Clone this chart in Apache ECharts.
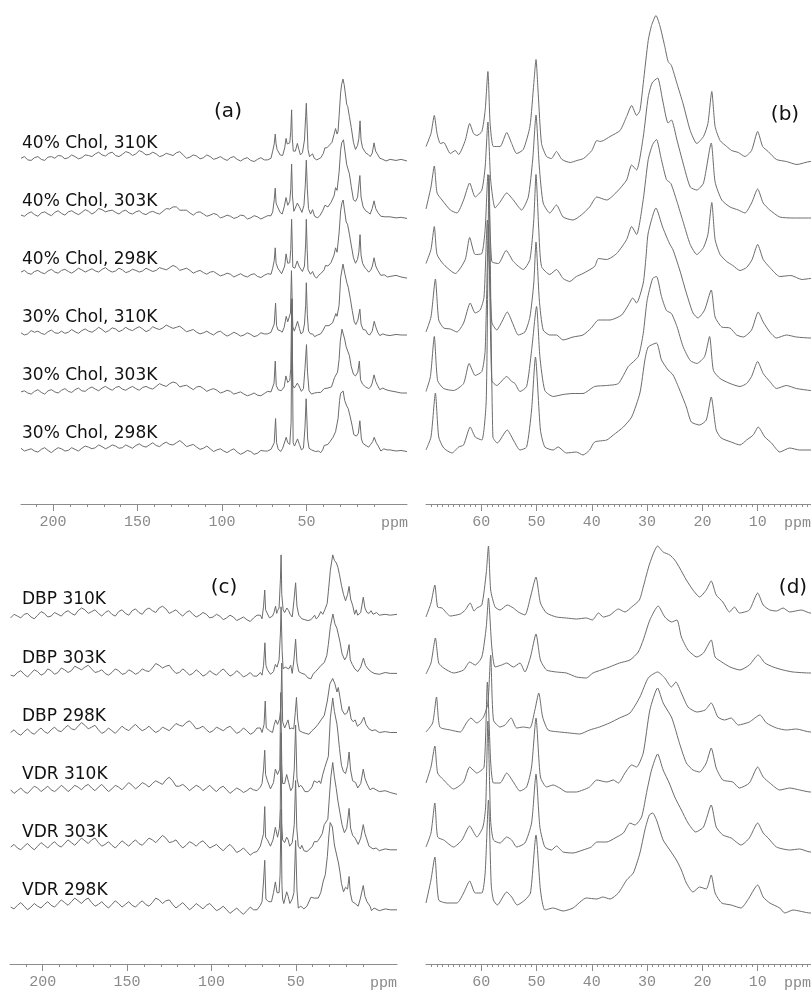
<!DOCTYPE html>
<html>
<head>
<meta charset="utf-8">
<script src="https://cdn.jsdelivr.net/npm/echarts@6.0.0/dist/echarts.min.js"></script>
<style>
html, body { margin: 0; padding: 0; background: #fff; }
#chart { width: 811px; height: 990px; }
</style>
</head>
<body>
<div id="chart"></div>
<script>
// ppm positions of the baseline readings in the wide panels (a) and (c)
const widePpm = [219, 217, 215, 213, 211, 209, 207, 205, 203, 201, 199, 197, 195, 193, 191, 189, 187, 185, 183, 181,
  179, 177, 175, 173, 171, 169, 167, 165, 163, 161, 159, 157, 155, 153, 151, 149, 147, 145, 143, 141,
  139, 137, 135, 133, 131, 129, 127, 125, 123, 121, 119, 117, 115, 113, 111, 109, 107, 105, 103, 101,
  99, 97, 95, 93, 91, 89, 87, 85, 83, 81, 79, 77, 75, 73, 71];

// baseline intensities (219 -> 71 ppm), same units as the peak lists below
const chol40_310Base = [5, 8, 2, 1, 6, 8, 3, 1, 7, 8, 5, 10, 9, 4, 6, 11, 8, 4, 6, 11, 10, 8, 13, 16, 11, 9, 14, 16, 10, 8,
  12, 17, 15, 10, 13, 19, 16, 11, 12, 16, 13, 8, 10, 14, 12, 10, 15, 17, 11, 5, 7, 11, 9, 4, 6, 11, 8, 3, 5, 8,
  4, 1, 6, 8, 3, 0, 4, 6, 1, -1, 3, 6, 2, 2, 5];
const chol40_303Base = [7, 5, 10, 13, 8, 5, 11, 13, 9, 6, 12, 15, 10, 7, 13, 15, 11, 8, 12, 17, 14, 9, 13, 19, 17, 13, 15, 16, 12, 9,
  14, 16, 11, 9, 13, 15, 10, 8, 12, 14, 11, 9, 14, 19, 18, 22, 22, 16, 16, 16, 11, 7, 12, 13, 9, 5, 7, 10, 8, 2,
  4, 7, 5, 1, 3, 7, 6, 0, 2, 6, 4, 0, 3, 6, 6];
const chol40_298Base = [9, 12, 7, 5, 10, 12, 8, 6, 11, 14, 9, 7, 12, 14, 10, 7, 11, 16, 13, 9, 12, 15, 11, 9, 14, 17, 12, 9, 11, 16,
  13, 8, 10, 14, 12, 9, 11, 16, 13, 10, 12, 17, 15, 13, 17, 21, 18, 12, 14, 16, 12, 7, 10, 12, 8, 5, 9, 10, 6, 2,
  4, 7, 5, 0, 3, 6, 2, 0, 4, 6, 1, -1, 3, 6, 5];
const chol30_310Base = [4, 0, 2, 8, 5, 7, 3, 1, 6, 9, 4, 3, 7, 3, 5, 10, 6, 3, 8, 11, 7, 5, 9, 14, 10, 5, 8, 13, 11, 6,
  9, 14, 10, 8, 12, 15, 11, 6, 9, 15, 12, 10, 13, 18, 15, 12, 14, 16, 11, 6, 8, 10, 5, 2, 4, 7, 3, 0, 5, 7,
  2, -2, 1, 5, 2, -2, 0, 4, 1, -3, -1, 4, 2, 2, 5];
const chol30_303Base = [2, 4, 0, -2, 3, 6, 1, -2, 4, 6, 2, 0, 5, 8, 3, 1, 6, 9, 4, 3, 8, 11, 7, 4, 9, 12, 8, 5, 10, 12,
  7, 5, 9, 12, 8, 5, 10, 12, 9, 7, 12, 17, 14, 12, 17, 20, 18, 11, 13, 14, 10, 6, 11, 12, 8, 3, 6, 8, 5, 0,
  2, 5, 3, -2, 0, 2, -2, -5, -3, 0, -4, -5, -1, 3, 2];
const chol30_298Base = [5, 0, 2, 4, 0, -2, 3, 6, 1, -3, 2, 6, 4, 0, 1, 6, 3, 0, 5, 9, 7, 4, 6, 11, 8, 4, 7, 11, 9, 5,
  6, 11, 8, 5, 10, 13, 9, 7, 11, 15, 10, 8, 13, 16, 12, 11, 15, 19, 14, 8, 10, 12, 7, 3, 5, 9, 4, -1, 2, 4,
  0, -3, 1, 4, -2, -6, -3, 1, -1, -6, -4, 1, 0, 0, 3];
const dbp310Base = [-1, 3, 1, -1, 3, 4, 0, -2, 2, 6, 4, 0, 1, 5, 3, 1, 5, 7, 4, 2, 7, 10, 8, 4, 6, 8, 4, 1, 5, 7,
  3, 1, 6, 8, 4, 2, 7, 9, 5, 3, 8, 10, 7, 5, 10, 12, 9, 4, 6, 8, 4, 1, 5, 7, 3, 0, 2, 5, 3, -1,
  0, 3, 1, -3, -1, 2, 0, -4, -2, 0, -3, -5, -1, 2, 2];
const dbp303Base = [0, -1, 3, 5, 1, -2, 2, 6, 4, 0, 2, 7, 5, 1, 3, 8, 6, 3, 5, 10, 8, 6, 9, 11, 7, 3, 4, 6, 2, 0,
  3, 7, 5, 1, 2, 6, 4, 1, 3, 7, 5, 4, 8, 13, 11, 8, 10, 11, 6, 2, 3, 7, 4, 0, 2, 6, 3, -1, 1, 5,
  2, 0, 4, 7, 3, -1, 1, 5, 2, -2, 0, 3, -1, -1, 3];
const dbp298Base = [1, 4, 0, -2, 2, 5, 1, -1, 3, 6, 2, 0, 4, 7, 3, 2, 6, 9, 5, 4, 8, 12, 9, 5, 7, 9, 4, 0, 2, 6,
  3, 0, 4, 8, 5, 3, 7, 10, 6, 3, 5, 8, 4, 1, 3, 7, 5, 3, 7, 11, 9, 8, 12, 14, 10, 5, 6, 8, 4, 1,
  3, 7, 5, 3, 6, 8, 4, 0, 2, 6, 3, -1, 1, 6, 6];
const vdr310Base = [2, -2, 1, 4, 0, -2, 2, 6, 4, 0, 3, 6, 2, 0, 3, 7, 4, 0, 3, 7, 5, 2, 6, 8, 4, 1, 5, 8, 4, 0,
  3, 7, 5, 2, 6, 10, 7, 3, 6, 10, 8, 5, 9, 12, 10, 8, 13, 16, 12, 6, 6, 8, 5, 1, 4, 7, 5, 1, 4, 7,
  3, 0, 4, 6, 2, -2, 1, 4, 2, -1, 1, 4, 2, 1, 5];
const vdr303Base = [3, 6, 2, 0, 4, 7, 3, 0, 4, 8, 5, 2, 6, 9, 5, 3, 7, 11, 8, 5, 9, 13, 10, 7, 11, 13, 8, 4, 6, 9,
  5, 2, 6, 10, 7, 4, 8, 11, 7, 5, 9, 13, 11, 8, 12, 16, 13, 8, 9, 11, 6, 2, 5, 9, 7, 4, 8, 10, 6, 2,
  4, 6, 2, -1, 3, 6, 2, -3, -1, 2, -2, -6, -3, -2, 4];
const vdr298Base = [1, -1, 3, 6, 2, -2, 1, 5, 2, 0, 4, 7, 3, 1, 5, 9, 6, 3, 7, 11, 8, 5, 9, 11, 6, 2, 4, 7, 3, 0,
  4, 8, 5, 1, 4, 7, 3, 1, 5, 8, 4, 2, 6, 11, 9, 5, 8, 9, 4, 0, 3, 6, 2, -2, 1, 5, 2, -1, 3, 5,
  1, -3, -1, 2, -2, -6, -3, 0, -4, -7, -3, 1, -2, -2, 3];

// [ppm, intensity] (b) and (d), 70 ppm down to -10 ppm
const chol40_310 = [[70, 18], [69.1, 31], [68.5, 49], [68.0, 31], [67.4, 21], [66.8, 22], [65.6, 11], [64.7, 14], [64.1, 10], [62.9, 24],
  [62.1, 41], [61.4, 31], [60.8, 29], [59.9, 33], [59.3, 54], [58.8, 93], [58.4, 41], [57.8, 18], [56.6, 18], [55.4, 32],
  [54.5, 21], [53.6, 11], [52.4, 15], [51.2, 38], [50.5, 81], [50.1, 105], [49.7, 71], [49.1, 21], [48.2, 8], [47.3, 6],
  [46.4, 13], [45.4, 5], [43.9, 2], [42.7, 4], [41.5, 6], [40.0, 14], [39.1, 24], [38.5, 23], [37.9, 24], [36.7, 28],
  [34.9, 34], [33.7, 48], [32.8, 59], [31.9, 49], [31.3, 54], [30.7, 81], [29.8, 124], [29.2, 139], [28.4, 149], [27.7, 139],
  [26.8, 118], [26.2, 103], [25.6, 99], [24.6, 81], [23.5, 61], [22.2, 34], [21.0, 21], [19.8, 28], [19.0, 41], [18.3, 73],
  [17.7, 38], [16.8, 24], [15.6, 18], [14.7, 14], [13.5, 12], [12.3, 8], [11.1, 14], [10.0, 33], [9.1, 18], [8.1, 13],
  [6.6, 5], [4.8, 3], [2.9, 0], [0.5, 3], [-3, 1], [-6, 3], [-9.5, 0]];
const chol40_303 = [[70, 13], [69.1, 35], [68.5, 56], [68.0, 29], [67.1, 22], [65.6, 12], [64.4, 9], [63.2, 22], [62.1, 39], [61.1, 25],
  [59.9, 32], [59.3, 55], [58.8, 100], [58.3, 42], [57.5, 14], [56.6, 20], [55.4, 29], [54.2, 22], [52.7, 12], [51.5, 25],
  [50.7, 62], [50.1, 107], [49.5, 55], [48.8, 19], [47.6, 9], [46.4, 17], [45.2, 5], [43.4, 2], [41.9, 7], [40.4, 15],
  [39.1, 25], [37.3, 22], [35.5, 30], [33.7, 42], [32.8, 57], [31.9, 52], [30.7, 85], [29.8, 125], [29.1, 139], [28.1, 144],
  [27.2, 122], [26.2, 99], [25.6, 102], [24.6, 82], [23.5, 59], [22.2, 35], [21.0, 32], [19.8, 39], [18.4, 79], [17.7, 40],
  [16.5, 22], [15.0, 15], [13.5, 12], [12.3, 9], [11.1, 19], [10.0, 33], [9.0, 19], [7.8, 12], [6.0, 5], [3.6, 4],
  [0.5, 4], [-3, 2], [-6, 3], [-9.5, 1]];
const chol40_298 = [[70, 16], [69.1, 30], [68.5, 53], [68.0, 25], [66.8, 15], [64.7, 6], [62.9, 20], [62.1, 42], [61.1, 25], [59.9, 26],
  [59.3, 50], [58.8, 105], [58.1, 18], [56.9, 16], [55.5, 29], [54.2, 18], [52.4, 10], [51.2, 20], [50.5, 60], [50.1, 105],
  [49.6, 50], [49.1, 13], [47.6, 5], [46.4, 10], [45.2, 1], [44.0, -2], [42.8, 3], [41.6, 6], [39.5, 13], [38.8, 21],
  [37.3, 20], [35.5, 26], [33.7, 40], [32.8, 53], [31.9, 45], [30.7, 80], [29.8, 120], [29.0, 135], [28.3, 140], [27.5, 122],
  [26.5, 100], [25.7, 96], [24.6, 78], [23.5, 58], [22.2, 35], [21.0, 25], [19.8, 32], [19.0, 45], [18.3, 77], [17.7, 40],
  [16.8, 25], [15.6, 18], [14.5, 14], [13.2, 9], [12.0, 12], [11.0, 20], [10.0, 35], [9.0, 20], [7.8, 12], [6.0, 3],
  [4.0, 4], [2.0, 0], [0.5, 1], [-3, 3], [-6, 0], [-9.5, -2]];
const chol30_310 = [[70, 5], [69.1, 20], [68.3, 58], [67.7, 17], [66.8, 9], [65.6, 8], [64.4, 5], [63.2, 14], [62.0, 34], [61.1, 24],
  [60.2, 27], [59.5, 40], [58.9, 117], [58.1, 15], [57.2, 7], [56.3, 15], [55.3, 25], [54.2, 12], [53.3, 2], [52.1, 5],
  [51.2, 20], [50.5, 54], [50.1, 95], [49.5, 37], [48.8, 7], [47.6, 2], [46.4, 2], [45.2, -3], [43.4, 0], [41.6, 2],
  [40.1, 9], [38.8, 17], [36.7, 17], [34.6, 22], [33.4, 32], [32.6, 39], [31.9, 34], [30.7, 54], [30.2, 80], [29.8, 104],
  [28.4, 129], [27.2, 110], [26.0, 94], [25.3, 87], [24.1, 67], [22.9, 44], [21.7, 24], [20.8, 19], [19.6, 27], [18.4, 47],
  [17.7, 20], [16.5, 10], [15.0, 9], [13.8, 2], [12.6, 0], [11.1, 7], [9.9, 25], [9.0, 15], [7.8, 5], [6.6, -1],
  [4.8, 2], [3.0, 0], [0.5, -1], [-3, 1], [-6, 0], [-9.5, 0]];
const chol30_303 = [[70, 3], [69.2, 18], [68.5, 58], [67.9, 14], [66.8, 6], [65.0, 4], [63.2, 11], [62.2, 31], [61.1, 19], [59.9, 23],
  [59.3, 44], [58.7, 170], [58.1, 14], [57.2, 9], [55.4, 18], [54.5, 13], [53.9, 11], [53.0, 3], [51.8, 8], [50.9, 44],
  [50.0, 88], [49.4, 38], [48.5, 4], [47.0, -2], [45.2, 0], [43.4, 1], [41.6, 1], [39.5, 8], [37.3, 9], [35.2, 11],
  [33.4, 28], [31.6, 38], [30.7, 61], [30.0, 94], [29.0, 116], [28.3, 118], [27.4, 98], [26.5, 84], [25.6, 81], [24.6, 68],
  [23.5, 48], [22.2, 34], [21.0, 31], [19.6, 38], [18.7, 58], [18.0, 24], [16.8, 16], [15.0, 11], [13.2, 8], [12.0, 11],
  [11.1, 18], [10.0, 33], [9.0, 21], [7.8, 13], [6.6, 6], [4.8, 9], [3.0, 6], [0.5, 4], [-3, 2], [-6, 0], [-9.5, 0]];
const chol30_298 = [[70, 2], [69.1, 15], [68.3, 59], [67.7, 15], [66.8, 4], [65.3, -1], [64.1, 5], [63.2, 7], [62.0, 25], [61.1, 15],
  [59.9, 12], [59.1, 52], [58.6, 277], [57.9, 15], [57.1, 9], [55.3, 22], [54.2, 12], [53.0, 2], [51.8, 5], [50.9, 42],
  [50.2, 95], [49.3, 22], [48.5, 5], [47.0, 2], [46.1, 5], [44.6, -1], [42.8, 0], [41.6, -3], [40.4, 2], [39.5, 10],
  [37.3, 12], [36.1, 17], [34.3, 25], [32.8, 35], [31.3, 59], [30.4, 92], [29.8, 105], [28.3, 109], [27.4, 92], [26.2, 82],
  [25.3, 77], [24.1, 62], [22.9, 45], [22.0, 30], [20.5, 27], [19.3, 32], [18.4, 55], [17.5, 22], [16.6, 14], [14.8, 10],
  [13.2, 7], [12.0, 12], [10.8, 17], [9.9, 25], [8.7, 15], [7.5, 9], [6.0, 0], [4.2, 4], [2.4, 2], [0.5, 2],
  [-3, 0], [-6, 1], [-9.5, -1]];

const dbp310 = [[70, -2], [69.1, 12], [68.4, 30], [67.9, 8], [67.1, 7], [65.6, -1], [63.8, 1], [62.9, 5], [62.0, 12], [61.3, 4],
  [60.8, 7], [59.9, 10], [59.1, 42], [58.7, 69], [58.3, 25], [57.5, 8], [56.6, 5], [55.3, 10], [54.2, 7], [53.3, 3],
  [52.1, 0], [51.1, 18], [50.1, 38], [49.3, 12], [48.2, 2], [46.4, -2], [44.6, -3], [42.8, -4], [41.0, -3], [39.9, -5],
  [38.8, 2], [37.9, -2], [36.7, 0], [35.2, 6], [34.0, 3], [32.8, 8], [31.4, 15], [30.7, 28], [29.5, 52], [28.1, 69],
  [27.1, 63], [25.9, 60], [25.0, 55], [24.1, 47], [22.9, 35], [21.7, 25], [20.5, 18], [19.3, 25], [18.4, 34], [17.5, 20],
  [16.3, 13], [15.1, 3], [14.2, 8], [13.3, 2], [11.5, 5], [10.0, 22], [9.0, 10], [7.8, 5], [6.6, 4], [5.4, 7],
  [4.2, 3], [2.1, 5], [0.5, 2], [-3, 3], [-6, 2], [-10, 3]];
const dbp303 = [[70, 0], [69.1, 11], [68.3, 36], [67.7, 11], [66.8, 6], [65.0, 1], [63.2, 4], [62.1, 12], [61.1, 9], [59.9, 17],
  [59.1, 47], [58.7, 76], [58.1, 27], [57.5, 7], [56.3, 9], [55.4, 11], [54.2, 7], [53.0, 11], [52.1, 2], [51.1, 17],
  [50.1, 40], [49.3, 14], [48.2, 4], [46.4, 2], [44.6, 1], [42.8, -3], [41.0, -4], [39.8, 1], [38.3, 4], [36.8, 7],
  [35.0, 11], [33.1, 14], [31.6, 22], [30.7, 34], [29.5, 54], [28.0, 68], [26.8, 57], [25.6, 52], [24.6, 54], [23.8, 37],
  [22.6, 24], [21.0, 17], [19.8, 21], [18.4, 34], [17.7, 17], [16.5, 12], [15.0, 7], [13.2, 4], [11.5, 9], [9.9, 19],
  [8.7, 11], [7.2, 7], [5.4, 4], [3.6, 2], [0.5, 1], [-3, 3], [-6, 2], [-10, 2]];
const dbp298 = [[70, 1], [68.8, 10], [68.1, 36], [67.5, 6], [65.6, 3], [63.8, 1], [62.7, 10], [61.9, 15], [60.8, 10], [59.6, 16],
  [58.8, 30], [58.3, 78], [57.8, 13], [56.6, 6], [55.7, 8], [54.6, 15], [53.6, 5], [52.4, 6], [51.2, 5], [50.3, 23],
  [49.6, 40], [48.9, 16], [47.9, 3], [45.8, 1], [44.0, 0], [42.2, -1], [40.4, 3], [38.6, 6], [36.8, 10], [35.0, 15],
  [33.1, 20], [31.3, 36], [29.8, 55], [28.1, 61], [26.8, 55], [25.6, 46], [24.8, 51], [23.8, 40], [22.6, 26], [21.0, 21],
  [19.5, 23], [18.4, 30], [17.2, 16], [16.0, 13], [14.8, 15], [13.5, 8], [11.5, 11], [9.6, 18], [8.4, 10], [6.6, 5],
  [4.8, 3], [3.0, 4], [0.5, 1], [-3, 2], [-6, 1], [-10, 1]];
const vdr310 = [[70, 9], [69.1, 25], [68.4, 46], [67.9, 19], [66.8, 12], [65.0, 3], [63.2, 10], [62.1, 25], [60.8, 19], [59.5, 25],
  [58.9, 110], [58.3, 30], [57.8, 9], [56.6, 9], [55.4, 19], [54.2, 10], [53.0, 1], [51.8, 5], [50.9, 25], [50.1, 74],
  [49.3, 15], [48.2, 5], [47.0, 7], [45.8, 4], [44.6, 0], [42.8, 0], [41.6, 2], [40.4, 5], [39.1, 12], [37.3, 10],
  [36.1, 12], [35.2, 9], [34.0, 19], [32.8, 27], [31.9, 25], [30.7, 39], [29.5, 82], [28.1, 104], [27.1, 89], [25.6, 75],
  [25.0, 65], [24.1, 48], [22.9, 29], [21.7, 22], [20.5, 20], [19.3, 29], [18.4, 44], [17.5, 24], [16.3, 12], [14.5, 10],
  [13.3, 4], [11.5, 9], [10.0, 25], [9.0, 15], [7.8, 9], [6.0, 2], [4.2, 4], [2.4, 2], [0.5, 0], [-3, 1],
  [-6, -1], [-10, -3]];
const vdr303 = [[70, 4], [69.1, 18], [68.4, 48], [67.9, 14], [66.8, 11], [65.0, 4], [63.5, 11], [62.1, 25], [60.8, 14], [59.7, 24],
  [59.2, 45], [58.8, 130], [58.3, 30], [57.8, 11], [56.6, 8], [55.4, 14], [54.5, 11], [53.6, 4], [52.1, 8], [50.9, 28],
  [50.1, 77], [49.4, 24], [48.5, 4], [47.3, 1], [46.4, 5], [45.2, -1], [43.4, -2], [41.6, 1], [40.1, 4], [39.1, 9],
  [37.3, 9], [35.8, 13], [34.3, 18], [33.1, 28], [32.2, 26], [31.0, 34], [30.0, 61], [29.2, 81], [28.1, 97], [27.1, 81],
  [26.0, 68], [25.0, 54], [23.8, 41], [22.6, 28], [21.2, 19], [19.8, 24], [18.4, 46], [17.5, 24], [16.3, 16], [14.8, 13],
  [13.0, 6], [11.5, 13], [10.0, 28], [9.0, 18], [8.1, 13], [6.6, 4], [4.2, 1], [2.4, 2], [0.5, -1], [-3, 1],
  [-6, 0], [-10, 0]];
const vdr298 = [[70, 7], [69.1, 30], [68.4, 53], [67.7, 10], [66.2, 7], [64.4, 7], [63.2, 17], [62.1, 29], [61.1, 17], [59.9, 17],
  [59.3, 37], [58.7, 110], [58.2, 25], [57.8, 10], [57.1, 5], [55.4, 18], [54.5, 13], [53.5, 5], [52.1, 10], [51.1, 17],
  [50.1, 75], [49.3, 20], [48.5, 0], [47.0, 2], [45.2, -1], [43.4, 2], [41.0, 12], [39.1, 11], [38.0, 13], [36.7, 11],
  [35.2, 17], [33.7, 30], [32.5, 37], [31.3, 57], [30.4, 80], [29.6, 95], [29.0, 97], [28.3, 90], [27.1, 70], [25.9, 60],
  [24.7, 50], [23.8, 40], [22.9, 27], [21.7, 18], [20.5, 23], [19.3, 21], [18.4, 35], [17.7, 17], [16.5, 7], [14.8, 5],
  [13.0, 2], [11.8, 10], [10.0, 25], [9.0, 13], [7.8, 7], [6.0, 2], [5.1, -3], [3.6, 0], [0.5, -3], [-3, -1],
  [-6, -2], [-10, -2]];

const cholNames = ['40% Chol, 310K', '40% Chol, 303K', '40% Chol, 298K', '30% Chol, 310K', '30% Chol, 303K', '30% Chol, 298K'];
const drugNames = ['DBP 310K', 'DBP 303K', 'DBP 298K', 'VDR 310K', 'VDR 303K', 'VDR 298K'];

// axis ticks
const wideLabels = [50, 100, 150, 200];
const wideMinor = [10, 20, 30, 40, 50, 60, 70, 80, 90, 100, 110, 120, 130, 140, 150, 160, 170, 180, 190, 200, 210];
const zoomLabels = [10, 20, 30, 40, 50, 60];
const zoomMinor = [];
for (let v = 1; v <= 69; v++) zoomMinor.push(v);

const cholSets = [
  [chol40_310Base, chol40_310], [chol40_303Base, chol40_303], [chol40_298Base, chol40_298],
  [chol30_310Base, chol30_310], [chol30_303Base, chol30_303], [chol30_298Base, chol30_298],
];
const drugSets = [
  [dbp310Base, dbp310], [dbp303Base, dbp303], [dbp298Base, dbp298],
  [vdr310Base, vdr310], [vdr303Base, vdr303], [vdr298Base, vdr298],
];

const PLOT_H = 504;
const panels = [
  { left: 21, top: 0, width: 386, min: -9.5, max: 219, scale: 0.55, base: 53, step: 58, wide: true,
    sets: cholSets, names: cholNames, labels: wideLabels, minor: wideMinor, ppmRight: 408, tag: '(a)', tagX: 228, tagY: 112 },
  { left: 426, top: 0, width: 385, min: 0.35, max: 70, scale: 1, base: 52, step: 57.5, wide: false,
    sets: cholSets, names: null, labels: zoomLabels, minor: zoomMinor, ppmRight: 811, tag: '(b)', tagX: 785, tagY: 115 },
  { left: 10, top: 460, width: 387, min: -10, max: 219.4, scale: 0.9, base: 56, step: 58.2, wide: true,
    sets: drugSets, names: drugNames, labels: wideLabels, minor: wideMinor, ppmRight: 397, tag: '(c)', tagX: 224, tagY: 588 },
  { left: 426, top: 460, width: 385, min: 0.35, max: 70, scale: 1, base: 54, step: 59, wide: false,
    sets: drugSets, names: null, labels: zoomLabels, minor: zoomMinor, ppmRight: 811, tag: '(d)', tagX: 793, tagY: 588 },
];

const AXIS_COLOR = '#8c8c8c';
const LABEL_COLOR = '#8a8a8a';
const TRACE_COLOR = '#6c6c6c';

const grids = [];
const xAxes = [];
const yAxes = [];
const series = [];
const graphics = [];

panels.forEach((p, i) => {
  grids.push({ left: p.left, top: p.top, width: p.width, height: PLOT_H });
  // main axis: line, minor ticks, labels
  xAxes.push({
    gridIndex: i, type: 'value', min: p.min, max: p.max, inverse: true, position: 'bottom',
    axisLine: { show: true, onZero: false, lineStyle: { color: AXIS_COLOR, width: 1 } },
    axisTick: { show: true, length: 3, customValues: p.minor, lineStyle: { color: AXIS_COLOR } },
    axisLabel: { show: true, customValues: p.labels, margin: 11, color: LABEL_COLOR, fontFamily: 'Liberation Mono', fontSize: 15 },
    splitLine: { show: false },
  });
  // overlay axis: long major ticks only
  xAxes.push({
    gridIndex: i, type: 'value', min: p.min, max: p.max, inverse: true, position: 'bottom',
    axisLine: { show: false, onZero: false },
    axisTick: { show: true, length: 7, customValues: p.labels, lineStyle: { color: AXIS_COLOR } },
    axisLabel: { show: false },
    splitLine: { show: false },
  });
  yAxes.push({ gridIndex: i, type: 'value', min: 0, max: PLOT_H, show: false });

  const bottom = p.top + PLOT_H;
  p.sets.forEach(([baseLine, peaks], k) => {
    const offset = p.base + p.step * (5 - k);
    const pts = p.wide ? widePpm.map((x, j) => [x, baseLine[j]]).concat(peaks) : peaks;
    series.push({
      type: 'line', xAxisIndex: 2 * i, yAxisIndex: i,
      data: pts.map(([x, v]) => [x, offset + p.scale * v]),
      showSymbol: false, symbol: 'none', silent: true, clip: true,
      smooth: p.wide ? false : 0.2, // the zoomed panels are drawn as smooth curves, the wide ones stay raw
      lineStyle: { color: TRACE_COLOR, width: 1 },
    });
    if (p.names) {
      graphics.push({
        type: 'text', x: 22, y: bottom - offset - 17,
        style: { text: p.names[k], font: '17px "DejaVu Sans"', fill: '#111',
          textAlign: 'left', textVerticalAlign: 'middle', align: 'left', verticalAlign: 'middle' },
      });
    }
  });

  graphics.push({
    type: 'text', x: p.tagX, y: p.tagY,
    style: { text: p.tag, font: '20px "DejaVu Sans"', fill: '#111',
      textAlign: 'center', textVerticalAlign: 'middle', align: 'center', verticalAlign: 'middle' },
  });
  graphics.push({
    type: 'text', x: p.ppmRight, y: bottom + 19,
    style: { text: 'ppm', font: '15px "Liberation Mono"', fill: LABEL_COLOR,
      textAlign: 'right', textVerticalAlign: 'middle', align: 'right', verticalAlign: 'middle' },
  });
});

const chart = echarts.init(document.getElementById('chart'), null, { renderer: 'canvas' });
chart.setOption({
  animation: false,
  backgroundColor: '#fff',
  grid: grids,
  xAxis: xAxes,
  yAxis: yAxes,
  series: series,
  graphic: graphics,
});
</script>
</body>
</html>
